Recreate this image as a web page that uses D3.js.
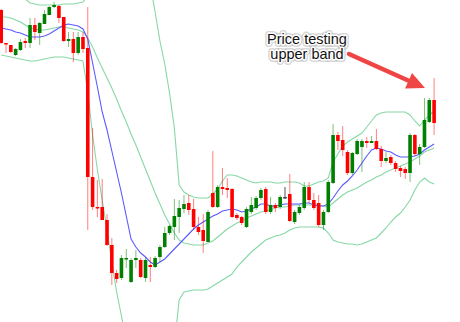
<!DOCTYPE html>
<html>
<head>
<meta charset="utf-8">
<script src="https://cdn.jsdelivr.net/npm/d3@7"></script>
<style>
  html, body { margin: 0; padding: 0; background: #fff; }
  svg { display: block; }
</style>
</head>
<body>
<div id="chart"></div>
<script>
// candles (arbitrary price units)
const opens = [390,357,355,345,350,359,357,375,367,376,385,393,394,383,359,361,347,363,352,223,
  193,193,180,155,127,122,141,118,140,140,122,135,133,143,153,167,173,183,191,197,
  191,173,170,158,207,193,213,212,211,185,183,173,188,192,202,211,188,195,193,203,
  206,178,187,192,213,200,197,175,188,217,265,260,248,227,246,253,259,257,259,251,
  239,243,237,232,231,227,265,246,253,278,300];
const closes = [357,356,348,351,358,357,375,368,377,386,393,395,382,359,361,347,363,351,223,193,
  192,180,155,127,121,142,142,140,142,123,140,133,142,153,167,174,184,192,196,190,
  173,168,159,188,193,213,211,210,183,182,177,191,195,202,210,188,195,192,203,203,
  179,188,193,213,200,192,175,188,218,265,259,250,227,247,259,259,257,259,251,239,
  242,237,231,229,227,265,246,253,280,300,277];
const highs = [391,357,355,352,361,362,382,382,378,390,394,398,395,383,368,368,368,368,393,272,
  220,221,186,162,130,145,151,142,150,142,143,143,144,155,173,175,201,200,205,205,
  201,183,186,190,249,215,232,222,212,187,184,193,203,204,212,213,203,197,205,213,
  226,190,195,218,218,207,205,190,220,276,268,274,250,248,261,261,263,264,271,254,
  248,245,239,234,233,267,266,256,302,302,322];
const lows = [356,347,347,344,349,352,352,360,355,376,385,392,377,358,353,338,345,347,170,190,
  183,180,154,115,117,120,132,117,132,122,118,118,132,138,152,165,160,167,187,185,
  170,165,147,158,192,192,205,202,182,180,175,172,186,190,200,186,186,188,191,201,
  178,176,185,190,197,190,173,170,187,216,250,244,225,225,245,228,252,257,250,233,
  237,235,228,223,221,218,244,235,252,277,265];

// indicator lines, one value per candle
const fastMA = [372,371,370,368,367,365,363,363,363,364,366,369,372,375,376,375,374,371,361,337,
  313,288,270,249,228,207,184,161,153,147,143,138,135,138,141,146,151,156,161,166,
  171,175,178,181,184,186,189,190,191,190,188,189,191,193,196,196,194,194,195,196,
  196,196,196,197,197,195,194,194,196,202,209,215,219,224,230,237,244,250,252,251,
  249,248,245,243,243,243,244,246,250,253,256];
const bandMid = [383,383,382,380,378,375,372,371,370,370,371,372,373,373,372,371,370,368,362,353,
  342,332,322,312,301,289,278,266,255,243,231,219,207,196,185,176,167,160,157,156,
  155,155,155,157,159,163,167,171,174,177,179,182,184,186,188,189,190,192,193,193,
  194,195,195,195,195,195,195,194,193,197,201,205,208,210,212,215,218,220,223,225,
  228,230,232,234,236,238,241,244,248,250,252];
const bandUpper = [410,408,407,405,404,401,397,396,395,395,395,395,395,396,396,396,397,398,404,420,
  440,460,475,490,500,505,505,495,480,460,440,415,388,359,336,307,272,215,208,205,
  203,202,202,202,206,211,219,225,225,224,222,220,218,217,218,218,218,217,217,218,
  218,218,217,214,214,216,218,219,222,238,246,254,258,261,264,267,273,279,285,287,
  288,288,288,288,288,285,279,274,280,285,289];
const bandLower = [345,344,343,342,341,340,339,339,340,341,342,343,343,343,342,341,340,339,308,265,
  230,200,170,138,108,84,60,40,25,15,10,10,15,25,35,45,55,100,108,109,
  110,110,110,111,114,117,120,123,126,133,138,143,148,152,156,160,162,164,165,167,
  170,172,173,173,173,173,173,172,167,160,158,157,156,156,155,156,158,160,162,167,
  172,178,183,187,193,200,210,218,222,218,216];

const noteLines = ["Price testing", "upper band"];

const width = 460, height = 322;

const svg = d3.select("#chart").append("svg")
    .attr("width", width)
    .attr("height", height)
    .style("font-family", "Arial, 'Liberation Sans', sans-serif");

const x = d3.scaleLinear()
    .domain([0, opens.length - 1])
    .range([1.2, 434.1]);

const y = d3.scaleLinear()
    .domain([78, 400])
    .range([height, 0]);

const candles = opens.map((o, i) => ({
  i, o, c: closes[i], h: highs[i], l: lows[i]
}));

const colorOf = d => d.c > d.o ? "#008000" : d.c < d.o ? "#ff0000" : "#444";

// bands and averages
const line = d3.line()
    .x((d, i) => x(i))
    .y(d => y(d));

[bandUpper, bandMid, bandLower].forEach(s => {
  svg.append("path")
      .attr("d", line(s))
      .attr("fill", "none")
      .attr("stroke", "#86d8a6")
      .attr("stroke-width", 1.1);
});

svg.append("path")
    .attr("d", line(fastMA))
    .attr("fill", "none")
    .attr("stroke", "#5a5aff")
    .attr("stroke-width", 1.1);

// wicks
svg.append("g").selectAll("line")
    .data(candles)
    .join("line")
    .attr("x1", d => x(d.i))
    .attr("x2", d => x(d.i))
    .attr("y1", d => y(d.h))
    .attr("y2", d => y(d.l))
    .attr("stroke", colorOf)
    .attr("stroke-opacity", d => d.c === d.o ? 0.9 : 0.5)
    .attr("stroke-width", 1);

// bodies
const bw = 3.6;
svg.append("g").selectAll("rect")
    .data(candles)
    .join("rect")
    .attr("x", d => x(d.i) - bw / 2)
    .attr("width", bw)
    .attr("y", d => y(Math.max(d.o, d.c)))
    .attr("height", d => Math.max(1.5, Math.abs(y(d.o) - y(d.c))))
    .attr("fill", colorOf);

// annotation
const note = svg.append("g").attr("text-anchor", "middle").attr("font-size", 14.5);
noteLines.forEach((t, k) => {
  const ty = 44 + k * 15;
  note.append("text").attr("x", 307).attr("y", ty).text(t)
      .attr("fill", "none").attr("stroke", "#999").attr("stroke-opacity", 0.4)
      .attr("stroke-width", 6).attr("stroke-linejoin", "round");
  note.append("text").attr("x", 307).attr("y", ty).text(t)
      .attr("fill", "none").attr("stroke", "#fff")
      .attr("stroke-width", 3).attr("stroke-linejoin", "round");
  note.append("text").attr("x", 307).attr("y", ty).text(t)
      .attr("fill", "#111");
});

// arrow pointing at the last candles
const tail = [349, 54], tip = [425, 88];
const dx = tip[0] - tail[0], dy = tip[1] - tail[1];
const len = Math.hypot(dx, dy);
const ux = dx / len, uy = dy / len;
const headLen = 18, headHalf = 8.5;
const base = [tip[0] - headLen * ux, tip[1] - headLen * uy];

svg.append("line")
    .attr("x1", tail[0]).attr("y1", tail[1])
    .attr("x2", base[0] + 2 * ux).attr("y2", base[1] + 2 * uy)
    .attr("stroke", "#f04545")
    .attr("stroke-width", 4.5)
    .attr("stroke-linecap", "round");

svg.append("polygon")
    .attr("points", [
      tip,
      [base[0] - headHalf * uy, base[1] + headHalf * ux],
      [base[0] + headHalf * uy, base[1] - headHalf * ux]
    ].map(p => p.join(",")).join(" "))
    .attr("fill", "#f04545");
</script>
</body>
</html>
